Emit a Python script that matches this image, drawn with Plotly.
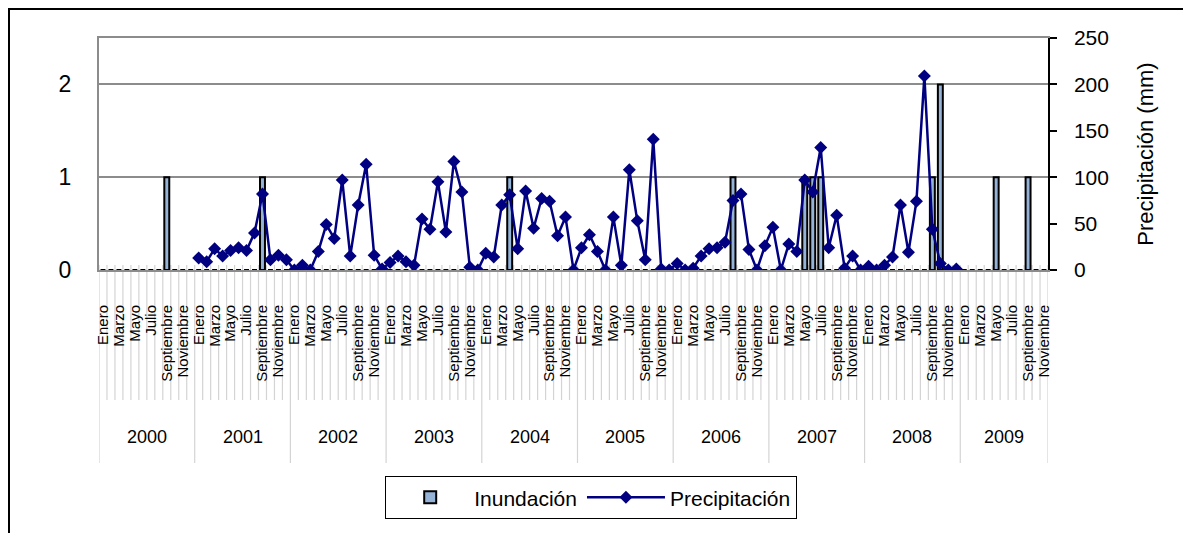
import plotly.graph_objects as go

years = ["2000", "2001", "2002", "2003", "2004", "2005", "2006", "2007", "2008", "2009"]
months = ["Enero", "Febrero", "Marzo", "Abril", "Mayo", "Junio", "Julio", "Agosto",
          "Septiembre", "Octubre", "Noviembre", "Diciembre"]
# the series ends in November 2009
last_month_2009 = "Noviembre"

# Inundación (number of flood events per month), Jan 2000 - Nov 2009
inundacion = [
    0, 0, 0, 0, 0, 0, 0, 0, 1, 0, 0, 0,   # 2000
    0, 0, 0, 0, 0, 0, 0, 0, 1, 0, 0, 0,   # 2001
    0, 0, 0, 0, 0, 0, 0, 0, 0, 0, 0, 0,   # 2002
    0, 0, 0, 0, 0, 0, 0, 0, 0, 0, 0, 0,   # 2003
    0, 0, 0, 1, 0, 0, 0, 0, 0, 0, 0, 0,   # 2004
    0, 0, 0, 0, 0, 0, 0, 0, 0, 0, 0, 0,   # 2005
    0, 0, 0, 0, 0, 0, 0, 1, 0, 0, 0, 0,   # 2006
    0, 0, 0, 0, 1, 1, 1, 0, 0, 0, 0, 0,   # 2007
    0, 0, 0, 0, 0, 0, 0, 0, 1, 2, 0, 0,   # 2008
    0, 0, 0, 0, 1, 0, 0, 0, 1, 0, 0,      # 2009 (Jan-Nov)
]

# Precipitación (mm), monthly; no data for 2000 and 2009
precip_2000 = [None] * 12
precip_2001 = [13, 9, 23, 15, 21, 24, 21, 40, 82, 11, 16, 11]
precip_2002 = [0, 5, 0, 20, 49, 34, 97, 15, 70, 114, 16, 1]
precip_2003 = [8, 15, 9, 5, 55, 44, 95, 41, 117, 84, 3, 0]
precip_2004 = [18, 14, 70, 81, 23, 85, 45, 77, 74, 37, 57, 0]
precip_2005 = [24, 38, 20, 0, 57, 5, 108, 53, 11, 141, 1, 0]
precip_2006 = [7, 0, 2, 15, 23, 24, 30, 75, 82, 22, 0, 26]
precip_2007 = [46, 0, 28, 20, 97, 84, 132, 24, 59, 2, 15, 0]
precip_2008 = [4, 0, 5, 14, 70, 19, 74, 209, 44, 7, 0, 1]
precip_2009 = [None] * 11

precipitacion = (precip_2000 + precip_2001 + precip_2002 + precip_2003 + precip_2004 +
                 precip_2005 + precip_2006 + precip_2007 + precip_2008 + precip_2009)

pairs = []
for y in years:
    for m in months:
        pairs.append((y, m))
        if y == years[-1] and m == last_month_2009:
            break
cats = [f"{m} {y}" for y, m in pairs]
tick_vals = [f"{m} {y}" for y, m in pairs if months.index(m) % 2 == 0]
tick_text = [m for y, m in pairs if months.index(m) % 2 == 0]

FONT = "Liberation Sans, Arial, sans-serif"
OFF = 8  # page body margin of the browser
W, H = 1191 - OFF, 533 - OFF
L, R, T, B = 99 - OFF, 1048 - OFF, 38 - OFF, 270 - OFF
pw, ph = R - L, B - T


def py(pix):
    return (B - (pix - OFF)) / ph


def px(pix):
    return ((pix - OFF) - L) / pw


fig = go.Figure()
fig.add_trace(go.Bar(
    x=cats, y=inundacion, name="Inundación",
    marker=dict(color="#95B3D7", line=dict(color="black", width=2)),
    width=0.62,
))
fig.add_trace(go.Scatter(
    x=cats, y=precipitacion, name="Precipitación", yaxis="y2",
    mode="lines+markers",
    line=dict(color="#000080", width=2.5),
    marker=dict(symbol="diamond", size=10, color="#000080"),
))

n = len(cats)
year_bounds = [i for i, (y, m) in enumerate(pairs) if m == months[0]] + [n]

shapes = []
for i in range(n + 1):
    is_year = i in year_bounds
    shapes.append(dict(
        type="line", xref="x", yref="paper",
        x0=i - 0.5, x1=i - 0.5, y0=py(265), y1=py(463 if is_year else 400),
        line=dict(color="#D4D4D4", width=1.2), layer="below",
    ))
# outer frame (only top and left edges fall inside the picture)
shapes.append(dict(type="rect", xref="paper", yref="paper",
                   x0=px(9), x1=px(1210), y0=py(9), y1=py(560),
                   line=dict(color="black", width=2)))

annotations = []
for k, y in enumerate(years):
    a, b = year_bounds[k], year_bounds[k + 1]
    annotations.append(dict(
        x=(a + b - 1) / 2, y=py(437), xref="x", yref="paper",
        text=y, showarrow=False, font=dict(family=FONT, size=18, color="black"),
        xanchor="center", yanchor="middle",
    ))

fig.update_layout(
    width=W, height=H,
    margin=dict(l=L, r=W - R, t=T, b=H - B),
    paper_bgcolor="white", plot_bgcolor="white",
    font=dict(family=FONT, color="black"),
    xaxis=dict(
        type="category", categoryorder="array", categoryarray=cats,
        range=[-0.5, n - 0.5],
        tickmode="array", tickvals=tick_vals, ticktext=tick_text,
        tickangle=-90, tickfont=dict(family=FONT, size=15),
        ticks="", ticklabelstandoff=27,
        showgrid=False, showline=True, linecolor="#8C8C8C", linewidth=2, mirror=True,
        zeroline=False,
    ),
    yaxis=dict(
        range=[0, 2.5], tickmode="array", tickvals=[0, 1, 2],
        tickfont=dict(family=FONT, size=23), ticklabelstandoff=21,
        showgrid=True, gridcolor="#8C8C8C", gridwidth=2,
        showline=True, linecolor="#8C8C8C", linewidth=2,
        zeroline=False, ticks="",
    ),
    yaxis2=dict(
        overlaying="y", side="right", range=[0, 250],
        tickmode="array", tickvals=[0, 50, 100, 150, 200, 250],
        tickfont=dict(family=FONT, size=21),
        ticks="outside", ticklen=7, tickwidth=1.5, tickcolor="black",
        showline=True, linecolor="black", linewidth=1.5,
        showgrid=False, zeroline=False, ticklabelstandoff=13,
        title=dict(text="Precipitación (mm)", font=dict(family=FONT, size=22), standoff=30),
    ),
    legend=dict(
        orientation="h", x=px(385), y=py(476), xanchor="left", yanchor="top",
        bordercolor="black", borderwidth=1.2, bgcolor="white",
        font=dict(family=FONT, size=21), itemwidth=78,
    ),
    shapes=shapes, annotations=annotations,
    showlegend=True,
)

fig.write_html("out.html")
